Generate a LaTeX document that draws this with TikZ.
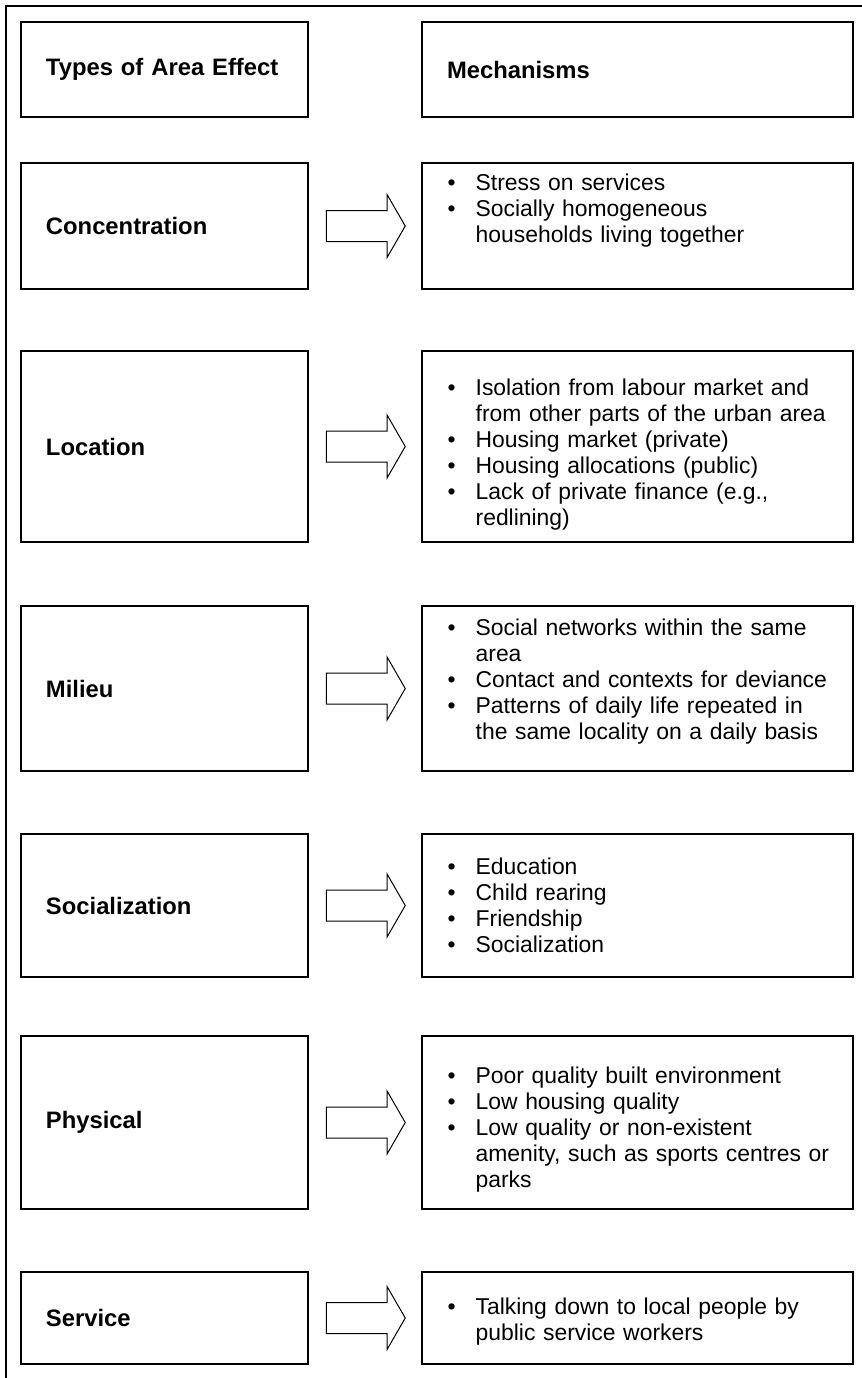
\documentclass[tikz,border=0pt]{standalone}
\usepackage{fontspec}
\setmainfont{Liberation Sans}
\usetikzlibrary{shapes.arrows, calc, positioning}

% puce avec retrait suspendu
\newcommand{\puce}[1]{\par\hangindent=14pt\hangafter=1\noindent\makebox[14pt][l]{\textbullet}#1\par}

\def\echelle{0.5pt}

\tikzset{
    boite/.style={draw, line width=0.75pt, minimum height=#1*\echelle, inner xsep=12.5pt, inner ysep=0pt,
        text width=118.5pt, align=left, font=\bfseries\fontsize{11.9}{14}\selectfont},
    meca/.style={draw, line width=0.75pt, minimum height=#1*\echelle, minimum width=215.5pt, inner sep=0pt},
    puces/.style={anchor=north west, inner sep=0pt, text width=200pt, align=left, font=\fontsize{11.45}{13}\selectfont},
    fleche/.style={draw, line width=0.5pt, single arrow, single arrow head extend=8pt,
        single arrow tip angle=120, minimum height=39.5pt, inner sep=7.5pt, anchor=tail}
}

\begin{document}
\begin{tikzpicture}[x=\echelle, y=-\echelle]
    \useasboundingbox (0,0) rectangle (862,1378);

    % Cadre
    \draw[line width=0.75pt] (6,1378) -- (6,6) -- (862,6);

    % En-têtes
    \node[boite=95] (titreA) at (164.5,69.5) {Types of Area Effect};
    \node[meca=95] (titreM) at (637.5,69.5) {};
    \node[boite=95, draw=none, anchor=west] at (titreM.west) {Mechanisms};

    % Concentration
    \node[boite=126] (conc) at (164.5,226) {Concentration};
    \node[meca=126] (concM) at (637.5,226) {};
    \node[fleche] (concF) at ($(conc.east)+(17,0)$) {};
    \node[puces] (concT) at ($(concM.north west)+(26,2)$) {%
        \puce{Stress on services}
        \puce{Socially homogeneous\newline households living together}};

    % Location
    \node[boite=191] (loc) at (164.5,446.5) {Location};
    \node[meca=191] (locM) at (637.5,446.5) {};
    \node[fleche] (locF) at ($(loc.east)+(17,0)$) {};
    \node[puces] (locT) at ($(locM.north west)+(26,19)$) {%
        \puce{Isolation from labour market and\newline from other parts of the urban area}
        \puce{Housing market (private)}
        \puce{Housing allocations (public)}
        \puce{Lack of private finance (e.g.,\newline redlining)}};

    % Milieu
    \node[boite=165] (mil) at (164.5,688.5) {Milieu};
    \node[meca=165] (milM) at (637.5,688.5) {};
    \node[fleche] (milF) at ($(mil.east)+(17,0)$) {};
    \node[puces] (milT) at ($(milM.north west)+(26,4)$) {%
        \puce{Social networks within the same\newline area}
        \puce{Contact and contexts for deviance}
        \puce{Patterns of daily life repeated in\newline the same locality on a daily basis}};

    % Socialization
    \node[boite=143] (soc) at (164.5,905.5) {Socialization};
    \node[meca=143] (socM) at (637.5,905.5) {};
    \node[fleche] (socF) at ($(soc.east)+(17,0)$) {};
    \node[puces] (socT) at ($(socM.north west)+(26,15)$) {%
        \puce{Education}
        \puce{Child rearing}
        \puce{Friendship}
        \puce{Socialization}};

    % Physical
    \node[boite=173] (phy) at (164.5,1122.5) {Physical};
    \node[meca=173] (phyM) at (637.5,1122.5) {};
    \node[fleche] (phyF) at ($(phy.east)+(17,0)$) {};
    \node[puces] (phyT) at ($(phyM.north west)+(26,22)$) {%
        \puce{Poor quality built environment}
        \puce{Low housing quality}
        \puce{Low quality or non-existent\newline amenity, such as sports centres or\newline parks}};

    % Service
    \node[boite=92] (ser) at (164.5,1318) {Service};
    \node[meca=92] (serM) at (637.5,1318) {};
    \node[fleche] (serF) at ($(ser.east)+(17,0)$) {};
    \node[puces] (serT) at ($(serM.north west)+(26,17)$) {%
        \puce{Talking down to local people by\newline public service workers}};

\end{tikzpicture}
\end{document}
